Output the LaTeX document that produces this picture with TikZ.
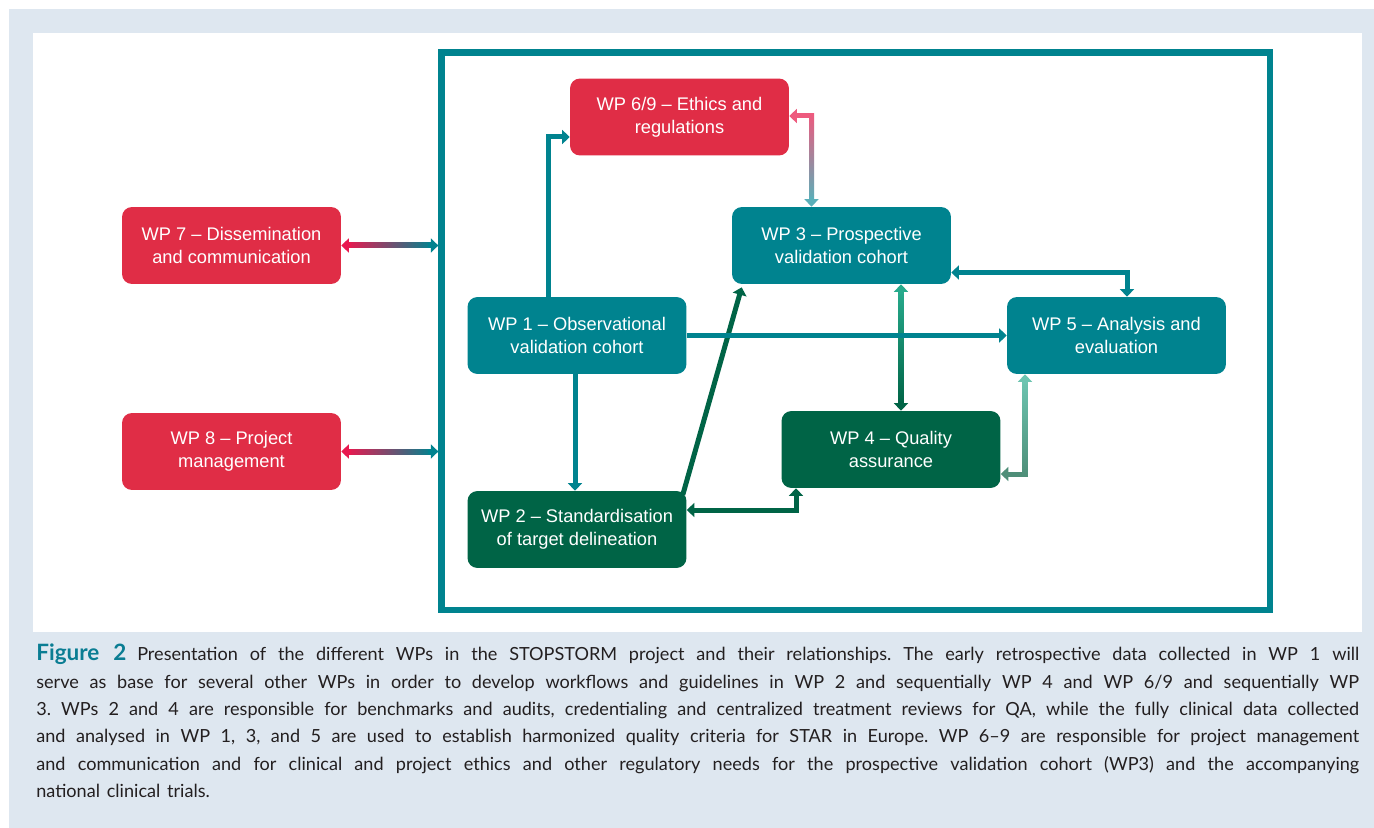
\documentclass[tikz,border=0pt]{standalone}
\usepackage{fontspec}
\setmainfont{Liberation Sans}
\newfontfamily\capfont{Lato}[Ligatures=TeX, WordSpace=1.45]
\usetikzlibrary{calc,arrows.meta,positioning}
\definecolor{wpred}{HTML}{E02D46}
\definecolor{wpteal}{HTML}{00838F}
\definecolor{wpgreen}{HTML}{006446}
\definecolor{linkred}{HTML}{E8194F}
\definecolor{linkpink}{HTML}{EE5A7E}
\definecolor{linkcyan}{HTML}{5AAFB9}
\definecolor{linkmint}{HTML}{27AA8C}
\definecolor{linksage}{HTML}{4E8E78}
\definecolor{linkaqua}{HTML}{6CC4B0}
\definecolor{pagebg}{HTML}{DEE7F0}
\definecolor{captext}{HTML}{231F20}
\definecolor{capteal}{HTML}{0A7D93}

\tikzset{
  wpbox/.style={rounded corners=0.2cm, minimum width=4.38cm, minimum height=1.54cm,
    inner sep=0pt, text=white, align=center, font=\fontsize{10.4pt}{13.3pt}\selectfont},
  redbox/.style={wpbox, fill=wpred},
  tealbox/.style={wpbox, fill=wpteal},
  greenbox/.style={wpbox, fill=wpgreen},
  link/.style={line width=0.1cm, -{Triangle[length=0.15cm, width=0.28cm]}},
  duallink/.style={line width=0.1cm,
    {Triangle[length=0.15cm, width=0.28cm]}-{Triangle[length=0.15cm, width=0.28cm]}},
}

\begin{document}
\begin{tikzpicture}[x=0.02cm, y=-0.02cm]
  % 1 unit = 1 px of the 1374 x 828 page, y runs downwards
  \useasboundingbox (0,0) rectangle (1374,828);
  \fill[white] (0,0) rectangle (1374,828);
  \fill[pagebg] (9,9) rectangle (1374,828);
  \fill[white] (33,33) rectangle (1362,632);

  % Frame round the core work packages
  \node[draw=wpteal, line width=0.13cm, minimum width=16.57cm, minimum height=11.15cm]
    (frame) at (855.75,331.25) {};

  % Work packages
  \node[redbox] (wp7) at (231.5,245.5) {WP 7 -- Dissemination\\and communication};
  \node[redbox] (wp8) at (231.5,451.5) {WP 8 -- Project\\management};
  \node[redbox] (wp69) at (679.5,117) {WP 6/9 -- Ethics and\\regulations};
  \node[tealbox] (wp3) at (841.5,245.5) {WP 3 -- Prospective\\validation cohort};
  \node[tealbox] (wp1) at (577,335.5) {WP 1 -- Observational\\validation cohort};
  \node[tealbox] (wp5) at (1116.5,335.5) {WP 5 -- Analysis and\\evaluation};
  \node[greenbox] (wp4) at (891,449.5) {WP 4 -- Quality\\assurance};
  \node[greenbox] (wp2) at (577,529.5) {WP 2 -- Standardisation\\of target delineation};

  % WP 7 / WP 8 <-> frame (red to teal)
  \foreach \wp in {wp7,wp8} {
    \coordinate (f-\wp) at (\wp.east -| frame.west);
    \shade[left color=linkred, right color=wpteal]
      ($(\wp.east)+(6,-2.5)$) rectangle ($(f-\wp)+(-6,2.5)$);
    \draw[link, linkred] ($(\wp.east)+(10,0)$) -- (\wp.east);
    \draw[link, wpteal] ($(f-\wp)+(-10,0)$) -- (f-\wp);
  }

  % WP 1 -> WP 6/9
  \draw[link, wpteal] ($(wp1.north)+(-29,0)$) |- ($(wp69.west)+(0,20)$);

  % WP 6/9 <-> WP 3 (pink to cyan)
  \coordinate (e69) at ($(wp69.east)+(0,-1)$);
  \coordinate (e3) at ($(wp3.north)+(-30,0)$);
  \coordinate (c693) at (e3 |- e69);
  \draw[link, linkpink, line cap=rect] (c693) -- (e69);
  \shade[top color=linkpink, bottom color=linkcyan]
    ($(c693)+(-2.5,-2.5)$) rectangle ($(e3)+(2.5,-6)$);
  \draw[link, linkcyan] ($(e3)+(0,-10)$) -- (e3);

  % WP 3 <-> WP 5
  \draw[duallink, wpteal] ($(wp3.east)+(0,27)$) -| ($(wp5.north)+(10.5,0)$);

  % WP 2 -> WP 3
  \draw[link, wpgreen] ($(wp2.north east)+(-4,4)$) -- ($(wp3.south west)+(10,3)$);

  % WP 3 <-> WP 4 (mint to green)
  \coordinate (s3) at ($(wp3.south)+(59.5,0)$);
  \coordinate (n4) at (s3 |- wp4.north);
  \shade[top color=linkmint, bottom color=wpgreen]
    ($(s3)+(-2.5,6)$) rectangle ($(n4)+(2.5,-6)$);
  \draw[link, linkmint] ($(s3)+(0,10)$) -- (s3);
  \draw[link, wpgreen] ($(n4)+(0,-10)$) -- (n4);

  % WP 2 <-> WP 4
  \draw[duallink, wpgreen] ($(wp2.east)+(0,-19.5)$) -| ($(wp4.south)+(-95,0)$);

  % WP 4 <-> WP 5 (sage to aqua)
  \coordinate (e4) at ($(wp4.east)+(0,24.5)$);
  \coordinate (s5) at ($(wp5.south)+(-91.5,0)$);
  \coordinate (c45) at (s5 |- e4);
  \draw[link, linksage, line cap=rect] (c45) -- (e4);
  \shade[top color=linkaqua, bottom color=linksage]
    ($(s5)+(-2.5,6)$) rectangle ($(c45)+(2.5,2.5)$);
  \draw[link, linkaqua] ($(s5)+(0,10)$) -- (s5);

  % WP 1 -> WP 2 and WP 1 -> WP 5 (on top)
  \draw[link, wpteal] ($(wp1.south)+(-2,0)$) -- ($(wp2.north)+(-2,0)$);
  \draw[link, wpteal] (wp1.east) -- (wp5.west);

  % Caption
  \node[anchor=base west, inner sep=0pt, text=captext] (caption) at (36,644)
    {\parbox[t]{26.46cm}{\capfont\fontsize{10.3pt}{15.6pt}\selectfont\frenchspacing
    {\fontsize{12.8pt}{15.6pt}\selectfont\bfseries\color{capteal}Figure 2}\hspace{0.6em}Presentation of the different WPs in the STOPSTORM project and their relationships. The early retrospective data collected in WP 1 will\linebreak
    serve as base for several other WPs in order to develop workflows and guidelines in WP 2 and sequentially WP 4 and WP 6/9 and sequentially WP\linebreak
    3. WPs 2 and 4 are responsible for benchmarks and audits, credentialing and centralized treatment reviews for QA, while the fully clinical data collected\linebreak
    and analysed in WP 1, 3, and 5 are used to establish harmonized quality criteria for STAR in Europe. WP 6--9 are responsible for project management\linebreak
    and communication and for clinical and project ethics and other regulatory needs for the prospective validation cohort (WP3) and the accompanying\linebreak
    national clinical trials.}};
\end{tikzpicture}
\end{document}
